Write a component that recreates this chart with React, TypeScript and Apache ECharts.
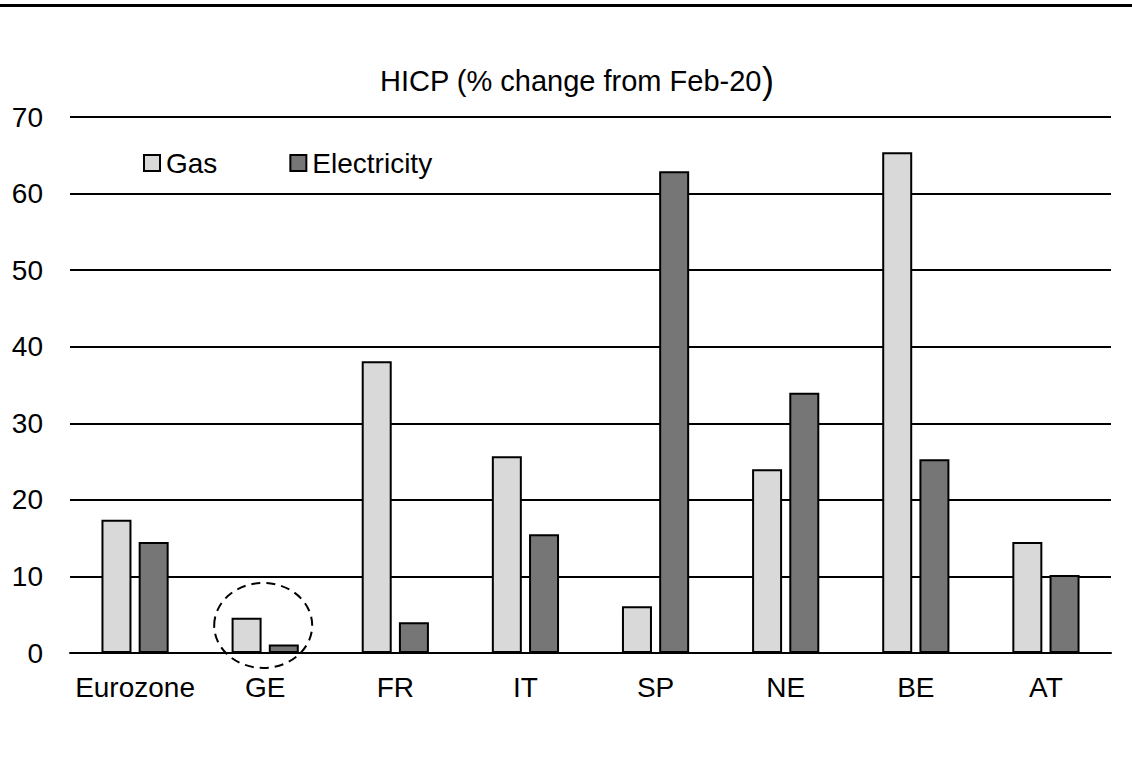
import React, { useEffect, useRef } from "react";
import * as echarts from "echarts";

const categories = ["Eurozone", "GE", "FR", "IT", "SP", "NE", "BE", "AT"];
const gasValues = [17.4, 4.6, 38.1, 25.7, 6.1, 24.0, 65.4, 14.5];
const electricityValues = [14.5, 1.1, 4.0, 15.5, 62.9, 34.0, 25.3, 10.2];
const seriesNames = ["Gas", "Electricity"];
const titleText = "HICP (% change from Feb-20{p|)}";

export default function App() {
  const ref = useRef<HTMLDivElement>(null);
  useEffect(() => {
    document.body.style.margin = "0";
    const chart = echarts.init(ref.current!, null, { renderer: "svg" });
    const font = "'Liberation Sans', Arial, sans-serif";
    chart.setOption({
      animation: false,
      backgroundColor: "#ffffff",
      title: {
        text: titleText,
        left: 375,
        top: 57,
        textStyle: {
          fontFamily: font,
          fontSize: 29,
          fontWeight: "normal",
          color: "#000",
          rich: { p: { fontFamily: font, fontSize: 36, color: "#000", verticalAlign: "bottom", padding: [0, 0, 2, 0] } },
        },
      },
      legend: {
        data: seriesNames,
        left: 138,
        top: 144,
        itemWidth: 16,
        itemHeight: 16,
        itemGap: 72,
        icon: "rect",
        textStyle: { fontFamily: font, fontSize: 28, color: "#000", padding: [0, 0, 0, 1] },
      },
      grid: { left: 70, right: 21, top: 117, bottom: 105 },
      xAxis: {
        type: "category",
        data: categories,
        axisLine: { lineStyle: { color: "#000", width: 2 } },
        axisTick: { show: false },
        axisLabel: { fontFamily: font, fontSize: 28, color: "#000", margin: 20, interval: 0 },
      },
      yAxis: {
        type: "value",
        min: 0,
        max: 70,
        interval: 10,
        axisLine: { show: false },
        axisTick: { show: false },
        splitLine: { lineStyle: { color: "#000", width: 2 } },
        axisLabel: { fontFamily: font, fontSize: 28, color: "#000", margin: 27 },
      },
      series: [
        {
          name: seriesNames[0],
          type: "bar",
          data: gasValues,
          barWidth: 30,
          barGap: "24%",
          itemStyle: { color: "#d9d9d9", borderColor: "#000", borderWidth: 2 },
        },
        {
          name: seriesNames[1],
          type: "bar",
          data: electricityValues,
          barWidth: 30,
          itemStyle: { color: "#767676", borderColor: "#000", borderWidth: 2 },
        },
      ],
    });
    const c = chart.convertToPixel({ xAxisIndex: 0, yAxisIndex: 0 }, [1, 3.6]) as number[];
    chart.setOption({
      graphic: [
        {
          type: "rect",
          shape: { x: 0, y: 4, width: 1132, height: 3 },
          style: { fill: "#000" },
        },
        {
          type: "ellipse",
          shape: { cx: c[0] - 2, cy: c[1], rx: 49, ry: 42.5 },
          style: { fill: "none", stroke: "#000", lineWidth: 2, lineDash: [9, 6] },
          z: 100,
        },
      ],
    });
    return () => chart.dispose();
  }, []);
  return <div ref={ref} style={{ position: "absolute", left: 0, top: 0, width: 1132, height: 758 }} />;
}
